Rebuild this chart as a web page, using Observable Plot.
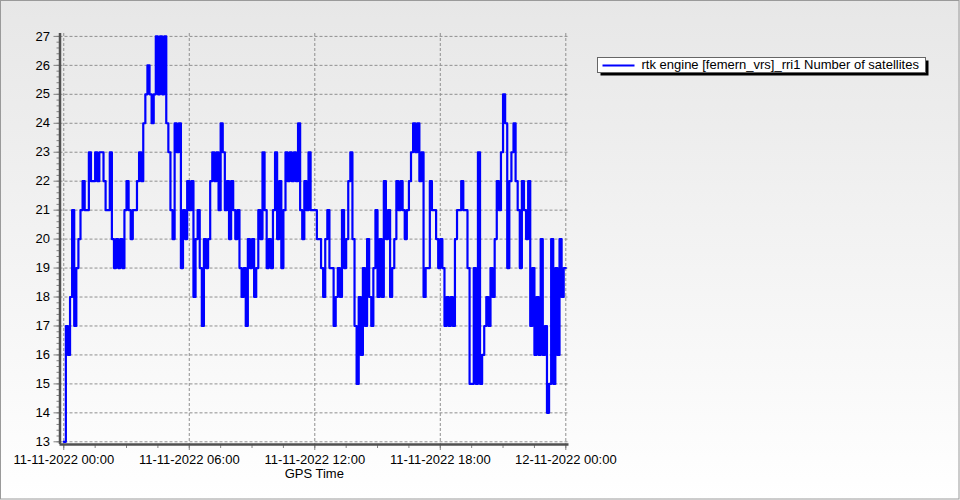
<!DOCTYPE html>
<html>
<head>
<meta charset="utf-8">
<script src="https://cdn.jsdelivr.net/npm/d3@7"></script>
<script src="https://cdn.jsdelivr.net/npm/@observablehq/plot@0.6"></script>
<style>
  html, body { margin: 0; padding: 0; background: #ffffff; }
  #chart { width: 960px; height: 500px; }
</style>
</head>
<body>
<div id="chart"></div>
<script>
// ---------------- data ----------------
const startTime = "2022-11-11T00:00:00Z";
const sampleMinutes = 6; // one value every 6 minutes (0.1 h)
const seriesName = "rtk engine [femern_vrs]_rri1 Number of satellites";
const xLabel = "GPS Time";

const hour00 = [13,17,16,18,21,17,19,20,21,22];
const hour01 = [21,21,23,22,22,23,22,23,23,22];
const hour02 = [21,21,23,20,19,20,19,20,19,21];
const hour03 = [22,21,20,21,21,22,23,22,24,25];
const hour04 = [26,25,24,25,27,25,27,25,27,24];
const hour05 = [23,21,20,24,23,24,19,21,20,22];
const hour06 = [21,22,18,20,21,19,17,20,19,20];
const hour07 = [22,23,22,23,21,24,23,21,22,20];
const hour08 = [22,21,20,21,19,18,19,17,20,19];
const hour09 = [20,18,19,21,20,23,21,19,20,19];
const hour10 = [21,23,20,22,19,21,23,22,23,22];
const hour11 = [23,22,24,21,20,22,21,23,21,21];
const hour12 = [21,20,20,19,18,20,21,19,19,17];
const hour13 = [18,19,18,21,19,20,22,23,20,17];
const hour14 = [15,18,16,19,17,20,18,17,19,21];
const hour15 = [18,20,18,22,20,21,18,19,20,22];
const hour16 = [21,22,21,20,21,22,23,24,23,24];
const hour17 = [22,23,18,19,19,22,21,21,20,19];
const hour18 = [20,19,17,18,17,18,17,20,21,21];
const hour19 = [22,21,21,19,15,15,19,15,23,15];
const hour20 = [16,17,18,17,19,18,20,22,21,23];
const hour21 = [25,24,19,22,23,24,22,21,19,22];
const hour22 = [21,20,22,17,19,16,18,16,20,16];
const hour23 = [17,14,15,20,15,19,16,20,18,19];
const hour24 = [19];

const yTicks = [13,14,15,16,17,18,19,20,21,22,23,24,25,26,27];
const xMajorTicks = ["2022-11-11T00:00:00Z","2022-11-11T06:00:00Z","2022-11-11T12:00:00Z","2022-11-11T18:00:00Z","2022-11-12T00:00:00Z"];

// ---------------- build ----------------
const satellites = [].concat(hour00,hour01,hour02,hour03,hour04,hour05,hour06,hour07,hour08,hour09,
  hour10,hour11,hour12,hour13,hour14,hour15,hour16,hour17,hour18,hour19,hour20,hour21,hour22,hour23,hour24);
const t0 = Date.parse(startTime);
const HOUR = 3600e3;
const records = satellites.map((v, i) => ({t: new Date(t0 + i * sampleMinutes * 60e3), v}));

const majorTimes = xMajorTicks.map(s => new Date(s));
const minorTimes = d3.range(0, 24.01, 1.5).map(h => new Date(t0 + h * HOUR));
const minorY = d3.range(13, 27.01, 0.2);

const xDomain = [new Date(t0 - 0.18 * HOUR), new Date(t0 + 24.153 * HOUR)];
const yDomain = [12.907, 27.1];
const fmt = d3.utcFormat("%d-%m-%Y %H:%M");

const FONT = "'Liberation Sans', Arial, sans-serif";

const chart = Plot.plot({
  width: 960,
  height: 500,
  marginLeft: 59.5,
  marginRight: 391.5,
  marginTop: 33,
  marginBottom: 56,
  style: {fontFamily: FONT, fontSize: "13px", background: "transparent", color: "#000", overflow: "visible"},
  x: {type: "utc", domain: xDomain, label: null},
  y: {domain: yDomain, label: null},
  marks: [
    Plot.gridY(yTicks, {stroke: "#8f8f8f", strokeOpacity: 1, strokeDasharray: "3,2"}),
    Plot.gridX(majorTimes, {stroke: "#8f8f8f", strokeOpacity: 1, strokeDasharray: "3,2"}),
    Plot.line(records, {x: "t", y: "v", curve: "step-after", stroke: "#0000ff", strokeWidth: 2.2}),
    Plot.axisY(minorY, {tickSize: 3, tickFormat: () => "", stroke: "#808080", label: null}),
    Plot.axisY(yTicks, {tickSize: 6, tickPadding: 4, stroke: "#808080", fill: "#000", label: null}),
    Plot.axisX(minorTimes, {tickSize: 4, tickFormat: () => "", stroke: "#808080", label: null}),
    Plot.axisX(majorTimes, {tickSize: 6, tickPadding: 4, tickFormat: fmt, stroke: "#808080", fill: "#000", label: null}),
    Plot.ruleX([xDomain[0]], {stroke: "#505050", strokeWidth: 2.5}),
    Plot.ruleY([yDomain[0]], {stroke: "#505050", strokeWidth: 2.5})
  ]
});

const svg = d3.select(chart);
// background gradient
const defs = svg.insert("defs", ":first-child");
const grad = defs.append("linearGradient").attr("id", "bg").attr("x1", 0).attr("y1", 0).attr("x2", 0).attr("y2", 1);
grad.append("stop").attr("offset", "0%").attr("stop-color", "#e7e7e7");
grad.append("stop").attr("offset", "100%").attr("stop-color", "#ffffff");
svg.insert("rect", "defs + *").attr("x", 0).attr("y", 0).attr("width", 960).attr("height", 500).attr("fill", "url(#bg)");
svg.append("rect").attr("x", 0.5).attr("y", 0.5).attr("width", 958.5).attr("height", 498.5)
  .attr("fill", "none").attr("stroke", "#9a9a9a").attr("stroke-width", 1);

// x-axis title
const xs = d3.scaleUtc().domain(xDomain).range([59.5, 960 - 391.5]);
svg.append("text").attr("x", (xs(majorTimes[0]) + xs(majorTimes[4])) / 2).attr("y", 478)
  .attr("text-anchor", "middle").attr("font-family", FONT).attr("font-size", 13).attr("fill", "#000").text(xLabel);

// legend
const lg = svg.append("g").attr("transform", "translate(597.5,57.5)").attr("text-anchor", "start");
lg.append("rect").attr("x", 3).attr("y", 3).attr("width", 328).attr("height", 15).attr("fill", "#000");
lg.append("rect").attr("x", 0).attr("y", 0).attr("width", 328).attr("height", 15).attr("fill", "#fff").attr("stroke", "#666").attr("stroke-width", 1);
lg.append("line").attr("x1", 5).attr("x2", 37).attr("y1", 8).attr("y2", 8).attr("stroke", "#0000ff").attr("stroke-width", 2);
lg.append("text").attr("x", 44).attr("y", 11.5).attr("text-anchor", "start").attr("font-family", FONT).attr("font-size", 13).attr("fill", "#000").text(seriesName);

document.getElementById("chart").appendChild(chart);
</script>
</body>
</html>
